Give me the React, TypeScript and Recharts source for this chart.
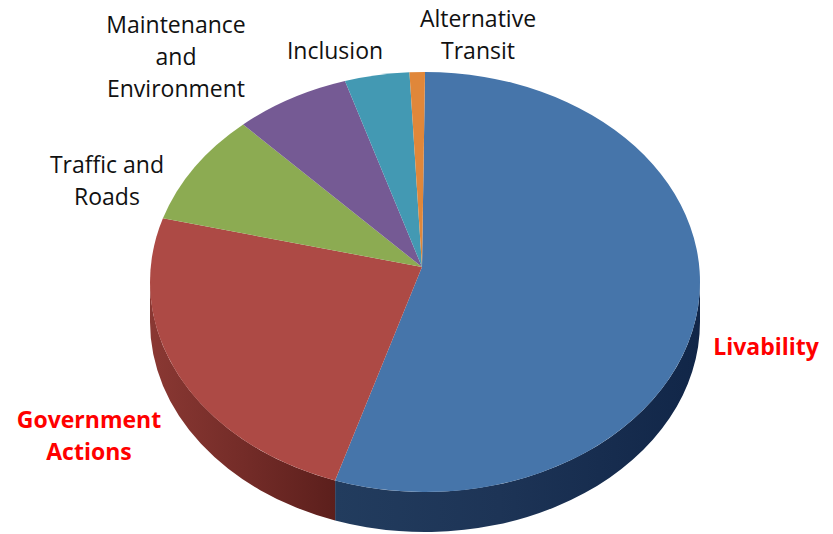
import { PieChart, Pie, Cell } from "recharts";

// slice names, clockwise from 12 o'clock
const categories = [
  "Livability",
  "Government Actions",
  "Traffic and Roads",
  "Maintenance and Environment",
  "Inclusion",
  "Alternative Transit",
];
// share of responses (%)
const shares = [55.3, 24.6, 8.6, 6.8, 3.8, 0.9];

const data = categories.map((name, i) => ({ name, value: shares[i] }));

const topColors = ["#4675aa", "#ad4a45", "#8cab52", "#755a94", "#4399b3", "#e0873a"];
const sideFills = ["url(#sideBlue)", "url(#sideRed)", "#5c7333", "#4b3a60", "#2b6475", "#94582a"];

// label placement (text positions, not marks)
const labelLayout: Record<string, { x: number; y: number; lines: string[]; hot?: boolean }> = {
  Livability: { x: 766, y: 355, lines: ["Livability"], hot: true },
  "Government Actions": { x: 89, y: 428, lines: ["Government", "Actions"], hot: true },
  "Traffic and Roads": { x: 107, y: 173, lines: ["Traffic and", "Roads"] },
  "Maintenance and Environment": { x: 176, y: 33, lines: ["Maintenance", "and", "Environment"] },
  Inclusion: { x: 335, y: 59, lines: ["Inclusion"] },
  "Alternative Transit": { x: 478, y: 27, lines: ["Alternative", "Transit"] },
};

const TILT = 210 / 275; // vertical squash of the pie
const DEPTH = 40;
const APEX_DX = -3;
const APEX_DY = -15;

const pt = (cx: number, cy: number, rx: number, ry: number, a: number) => {
  const r = (a * Math.PI) / 180;
  return [cx + rx * Math.cos(r), cy - ry * Math.sin(r)];
};

const TopSlice = (props: any) => {
  const { cx, cy, outerRadius, startAngle, endAngle, fill } = props;
  const rx = outerRadius;
  const ry = outerRadius * TILT;
  const [x1, y1] = pt(cx, cy, rx, ry, startAngle);
  const [x2, y2] = pt(cx, cy, rx, ry, endAngle);
  const large = Math.abs(startAngle - endAngle) > 180 ? 1 : 0;
  const sweep = startAngle > endAngle ? 1 : 0;
  const d = `M ${cx + APEX_DX},${cy + APEX_DY} L ${x1},${y1} A ${rx} ${ry} 0 ${large} ${sweep} ${x2},${y2} Z`;
  return <path d={d} fill={fill} stroke="none" />;
};

const SideSlice = (props: any) => {
  const { cx, cy, outerRadius, startAngle, endAngle, fill } = props;
  const rx = outerRadius;
  const ry = outerRadius * TILT;
  const lo = Math.min(startAngle, endAngle);
  const hi = Math.max(startAngle, endAngle);
  const parts: string[] = [];
  [[-540, -360], [-180, 0], [180, 360]].forEach(([a0, b0]) => {
    const a = Math.max(lo, a0);
    const b = Math.min(hi, b0);
    if (b - a <= 0.01) return;
    const [xb, yb] = pt(cx, cy, rx, ry, b);
    const [xa, ya] = pt(cx, cy, rx, ry, a);
    parts.push(
      `M ${xb},${yb} A ${rx} ${ry} 0 0 1 ${xa},${ya} L ${xa},${ya + DEPTH} A ${rx} ${ry} 0 0 0 ${xb},${yb + DEPTH} Z`
    );
  });
  if (!parts.length) return <g />;
  return <path d={parts.join(" ")} fill={fill} stroke="none" />;
};

const renderLabel = (props: any) => {
  const name = props.name ?? props.payload?.name;
  const l = labelLayout[name];
  if (!l) return null;
  return (
    <text
      x={l.x}
      y={l.y}
      textAnchor="middle"
      fontFamily="'Open Sans', sans-serif"
      fontSize={23}
      fontWeight={l.hot ? 700 : 400}
      fill={l.hot ? "#ff0000" : "#111111"}
    >
      {l.lines.map((line, i) => (
        <tspan key={line} x={l.x} dy={i === 0 ? 0 : 32}>
          {line}
        </tspan>
      ))}
    </text>
  );
};

export default function App() {
  return (
    <div style={{ position: "absolute", left: 0, top: 0, width: 833, height: 534, background: "#fff" }}>
      <PieChart width={833} height={534} margin={{ top: 0, right: 0, bottom: 0, left: 0 }}>
        <defs>
          <linearGradient id="sideBlue" x1="0" y1="0" x2="1" y2="0">
            <stop offset="0%" stopColor="#223c5e" />
            <stop offset="45%" stopColor="#1d3456" />
            <stop offset="100%" stopColor="#112648" />
          </linearGradient>
          <linearGradient id="sideRed" x1="0" y1="0" x2="1" y2="0">
            <stop offset="0%" stopColor="#8a3833" />
            <stop offset="50%" stopColor="#742c28" />
            <stop offset="100%" stopColor="#5c1f1c" />
          </linearGradient>
        </defs>
        <Pie
          data={data}
          dataKey="value"
          nameKey="name"
          cx={425}
          cy={282}
          outerRadius={275}
          startAngle={90}
          endAngle={-270}
          stroke="none"
          shape={SideSlice}
          isAnimationActive={false}
        >
          {data.map((d, i) => (
            <Cell key={d.name} fill={sideFills[i]} />
          ))}
        </Pie>
        <Pie
          data={data}
          dataKey="value"
          nameKey="name"
          cx={425}
          cy={282}
          outerRadius={275}
          startAngle={90}
          endAngle={-270}
          stroke="none"
          shape={TopSlice}
          label={renderLabel}
          labelLine={false}
          isAnimationActive={false}
        >
          {data.map((d, i) => (
            <Cell key={d.name} fill={topColors[i]} />
          ))}
        </Pie>
      </PieChart>
    </div>
  );
}
